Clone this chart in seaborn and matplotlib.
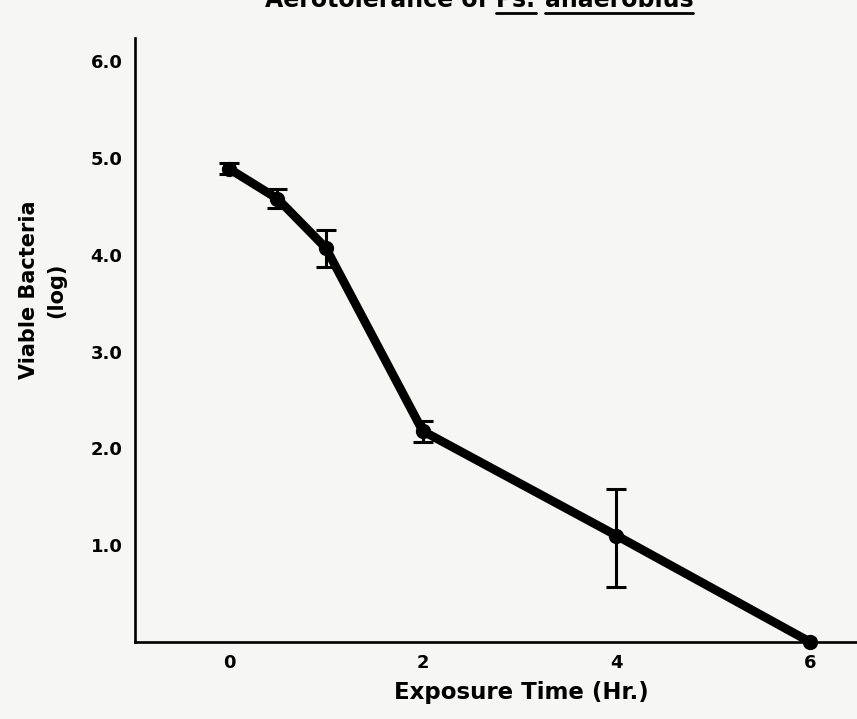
import numpy as np
import pandas as pd
import matplotlib
matplotlib.use("Agg")
import matplotlib.pyplot as plt
import seaborn as sns

# Survival of Ps. anaerobius during exposure to air
exposure_hr = [0, 0.5, 1, 2, 4, 6]
viable_log = [4.89, 4.58, 4.07, 2.18, 1.10, 0.0]
err_low = [4.83, 4.48, 3.87, 2.07, 0.57, 0.0]
err_high = [4.95, 4.68, 4.26, 2.28, 1.58, 0.0]

x_ticks = [0, 1, 2, 3, 4, 5, 6]
x_ticklabels = ["0", "", "2", "", "4", "", "6"]
y_ticks = [1, 2, 3, 4, 5, 6]
y_ticklabels = ["1.0", "2.0", "3.0", "4.0", "5.0", "6.0"]

bg = "#f6f6f4"
sns.set_theme(style="white")
plt.rcParams["font.family"] = ["DejaVu Sans"]
plt.rcParams["font.weight"] = "bold"

W, H = 857, 719
fig = plt.figure(figsize=(W / 100, H / 100), dpi=100, facecolor=bg)
ax = fig.add_axes([135 / W, (H - 642) / H, (W - 135) / W, (642 - 38) / H])
ax.set_facecolor(bg)

df = pd.DataFrame({"t": exposure_hr, "v": viable_log})
mid = np.array(viable_log)
yerr = np.vstack([mid - np.array(err_low), np.array(err_high) - mid])
ax.errorbar(exposure_hr[:-1], viable_log[:-1], yerr=yerr[:, :-1], fmt="none",
            ecolor="black", elinewidth=2.2, capsize=7.5, capthick=2.2, zorder=3)
sns.lineplot(data=df, x="t", y="v", ax=ax, color="black", linewidth=6.3,
             marker="o", markersize=11, markeredgecolor="black",
             markeredgewidth=0, zorder=4, clip_on=False)

ax.set_xlim(-0.971, 6.484)
ax.set_ylim(0, 6.24)
ax.set_xticks(x_ticks)
ax.set_xticklabels(x_ticklabels)
ax.set_yticks(y_ticks)
ax.set_yticklabels(y_ticklabels)
ax.set_xlabel("")
ax.set_ylabel("")

for side in ["top", "right"]:
    ax.spines[side].set_visible(False)
for side in ["left", "bottom"]:
    ax.spines[side].set_color("black")
    ax.spines[side].set_linewidth(1.9)

ax.tick_params(axis="y", direction="in", length=11, width=1.6, pad=9,
               labelsize=13, colors="black")
ax.tick_params(axis="x", direction="in", length=10, width=1.6, pad=9,
               labelsize=13, colors="black")
for lab in ax.get_xticklabels() + ax.get_yticklabels():
    lab.set_fontweight("bold")

fig.text(521 / W, 1 - 693 / H, "Exposure Time (Hr.)", ha="center", va="center",
         fontsize=16.5, fontweight="bold", color="black")
fig.text(43 / W, 1 - 290 / H, "Viable Bacteria\n(log)", ha="center", va="center",
         rotation=90, fontsize=15, fontweight="bold", color="black",
         multialignment="center", linespacing=1.45)

# Title with underlined genus and species, partly above the top edge
fig.canvas.draw()
renderer = fig.canvas.get_renderer()
pieces = ["Aerotolerance of ", "Ps.", " ", "anaerobius"]
underlined = [False, True, False, True]
fs = 17
base_y = 1 - 7 / H
x = 265 / W
for txt, ul in zip(pieces, underlined):
    t = fig.text(x, base_y, txt, ha="left", va="baseline", fontsize=fs,
                 fontweight="bold", color="black")
    bb = t.get_window_extent(renderer)
    if ul:
        uy = 1 - 12.5 / H
        fig.add_artist(plt.Line2D([bb.x0 / W, bb.x1 / W], [uy, uy],
                                  color="black", linewidth=2.0,
                                  transform=fig.transFigure))
    x = bb.x1 / W

fig.savefig("out.png", dpi=100, facecolor=bg)
